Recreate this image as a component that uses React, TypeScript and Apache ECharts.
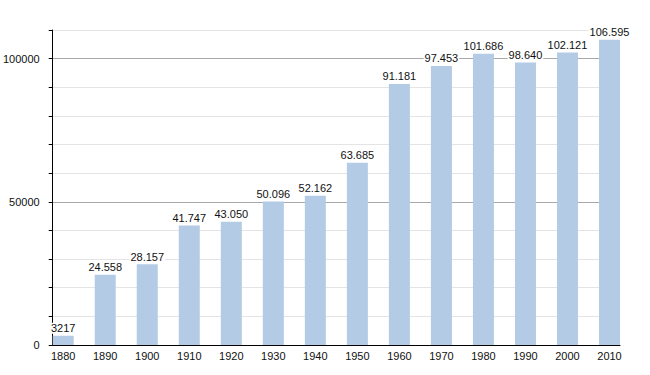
import React, { useEffect, useRef } from "react";
import * as echarts from "echarts";

const years = [1880, 1890, 1900, 1910, 1920, 1930, 1940, 1950, 1960, 1970, 1980, 1990, 2000, 2010];
const population = [3217, 24558, 28157, 41747, 43050, 50096, 52162, 63685, 91181, 97453, 101686, 98640, 102121, 106595];
const yLabels = [0, 50000, 100000];

const FONT = "'Liberation Sans', Arial, sans-serif";

function fmt(v: number): string {
  if (v < 10000) return String(v);
  const s = String(v);
  return s.slice(0, s.length - 3) + "." + s.slice(s.length - 3);
}

export default function App() {
  const ref = useRef<HTMLDivElement>(null);
  useEffect(() => {
    if (!ref.current) return;
    const chart = echarts.init(ref.current, undefined, { renderer: "svg" });
    const major = "#a8a8a8";
    const minor = "#e4e4e4";
    chart.setOption({
      animation: false,
      backgroundColor: "#ffffff",
      grid: { left: 50, right: 30, top: 30, bottom: 30, containLabel: false },
      xAxis: {
        type: "value",
        min: 1877.5,
        max: 2012.5,
        axisLine: { show: true, lineStyle: { color: "#000", width: 1 } },
        axisTick: { show: false },
        splitLine: { show: false },
        axisLabel: {
          customValues: years,
          formatter: (v: number) => String(v),
          color: "#111",
          fontFamily: FONT,
          fontSize: 11,
          margin: 5,
        },
      },
      yAxis: {
        type: "value",
        min: 0,
        max: 110000,
        interval: 10000,
        axisLine: { show: true, lineStyle: { color: "#000", width: 1 } },
        axisTick: { show: true, length: 4, lineStyle: { color: "#000" } },
        splitLine: {
          show: true,
          lineStyle: { color: [major, minor, minor, minor, minor], width: 1 },
        },
        axisLabel: {
          formatter: (v: number) => (yLabels.indexOf(v) >= 0 ? String(v) : ""),
          color: "#111",
          fontFamily: FONT,
          fontSize: 11,
          margin: 13,
        },
      },
      series: [
        {
          type: "bar",
          barWidth: 21,
          data: years.map((y, i) => [y, population[i]]),
          itemStyle: { color: "#b3cbe5" },
          label: {
            show: true,
            position: "top",
            distance: 2,
            formatter: (p: any) => fmt(p.value[1]),
            color: "#111",
            fontFamily: FONT,
            fontSize: 11,
            backgroundColor: "#ffffff",
            padding: [0, 1],
          },
        },
      ],
    });
    return () => chart.dispose();
  }, []);
  return <div ref={ref} style={{ width: 650, height: 375, position: "absolute", left: 0, top: 0 }} />;
}
